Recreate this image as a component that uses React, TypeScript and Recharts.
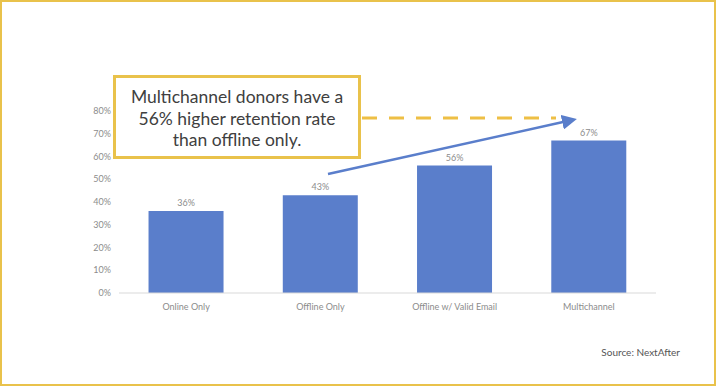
import React from 'react';
import { BarChart, Bar, XAxis, YAxis, LabelList } from 'recharts';

const categories = ['Online Only', 'Offline Only', 'Offline w/ Valid Email', 'Multichannel'];
const retention = [36, 43, 56, 67];
const yTicks = [0, 10, 20, 30, 40, 50, 60, 70, 80];
const calloutLines = ['Multichannel donors have a', '56% higher retention rate', 'than offline only.'];
const sourceNote = 'Source: NextAfter';

const FONT = 'Lato, "Open Sans", sans-serif';
const YELLOW = '#e9c24b';
const BLUE = '#5a7ecb';

export default function App() {
  const data = categories.map((name, i) => ({ name, value: retention[i] }));

  return (
    <div
      style={{
        position: 'absolute',
        left: 0,
        top: 0,
        width: 717,
        height: 388,
        background: '#fff',
        fontFamily: FONT,
      }}
    >
      <BarChart
        width={717}
        height={388}
        data={data}
        margin={{ top: 111, right: 61, left: 59, bottom: 65 }}
        barCategoryGap="22%"
      >
        <XAxis
          dataKey="name"
          tickLine={false}
          axisLine={{ stroke: '#d9d9d9' }}
          tick={{ fontSize: 9, fill: '#8c8c8c', fontFamily: FONT }}
          tickMargin={5}
          interval={0}
        />
        <YAxis
          domain={[0, 80]}
          ticks={yTicks}
          tickFormatter={(v: number) => `${v}%`}
          axisLine={false}
          tickLine={false}
          width={60}
          tick={{ fontSize: 9, fill: '#8c8c8c', fontFamily: FONT }}
        />
        <Bar dataKey="value" fill={BLUE} isAnimationActive={false}>
          <LabelList
            dataKey="value"
            position="top"
            formatter={(v: any) => `${v}%`}
            style={{ fontSize: 9, fill: '#8c8c8c', fontFamily: FONT }}
          />
        </Bar>
      </BarChart>

      {/* callout, dashed guide and trend arrow */}
      <svg width={717} height={388} style={{ position: 'absolute', left: 0, top: 0, pointerEvents: 'none' }}>
        <defs>
          <marker id="arrowHead" markerWidth="6" markerHeight="6" refX="4" refY="3" orient="auto" markerUnits="strokeWidth">
            <path d="M0,0 L6,3 L0,6 Z" fill={BLUE} />
          </marker>
        </defs>
        <line x1={362} y1={118} x2={556} y2={118} stroke="#eebf45" strokeWidth={3} strokeDasharray="15 12" />
        <line x1={328} y1={174} x2={572} y2={120} stroke={BLUE} strokeWidth={2.5} markerEnd="url(#arrowHead)" />
        <rect x={114.5} y={76.5} width={245} height={81} fill="#fff" stroke={YELLOW} strokeWidth={3} />
        {calloutLines.map((t, i) => (
          <text
            key={t}
            x={237}
            y={103 + i * 21.5}
            textAnchor="middle"
            fontSize={17.5}
            fill="#404040"
            fontFamily={FONT}
          >
            {t}
          </text>
        ))}
        <text x={680} y={356} textAnchor="end" fontSize={10} fill="#555" fontFamily={FONT}>
          {sourceNote}
        </text>
        <rect x={1} y={1} width={714} height={384} fill="none" stroke={YELLOW} strokeWidth={2} />
      </svg>
    </div>
  );
}
